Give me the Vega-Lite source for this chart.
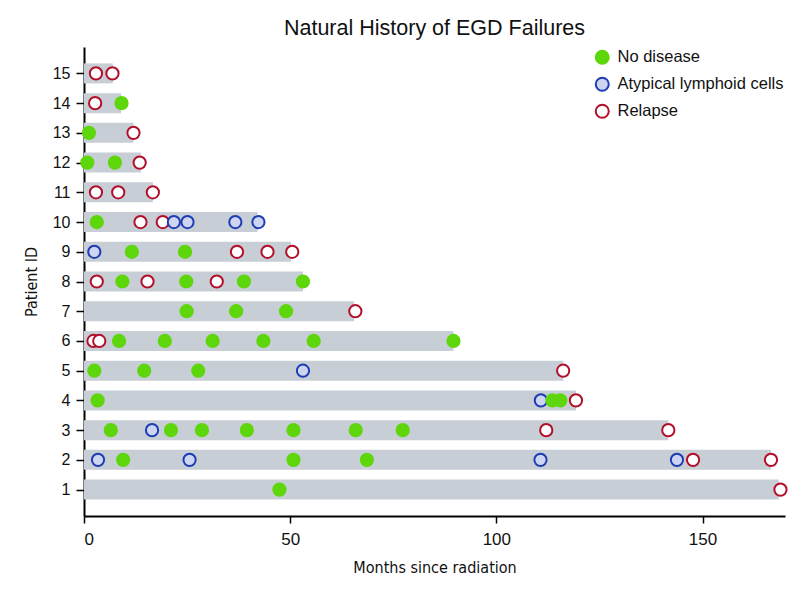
{
  "$schema": "https://vega.github.io/schema/vega-lite/v6.json",
  "width": 701,
  "height": 469,
  "autosize": {"type": "none"},
  "padding": {"left": 84, "top": 47, "right": 17, "bottom": 79},
  "background": "white",
  "config": {
    "view": {"stroke": null},
    "font": "Liberation Sans",
    "axis": {
      "grid": false,
      "domainColor": "#000", "domainWidth": 2,
      "tickColor": "#000", "tickWidth": 1.5,
      "labelColor": "#111", "labelFont": "Liberation Sans",
      "titleFont": "DejaVu Sans Condensed, Liberation Sans Narrow, Liberation Sans",
      "titleFontSize": 16, "titleFontWeight": "normal", "titleColor": "#111"
    },
    "axisX": {"tickSize": 7, "labelFontSize": 17, "labelPadding": 8, "titlePadding": 12},
    "axisY": {"tickSize": 8, "labelFontSize": 16, "labelPadding": 6, "titlePadding": 13, "labelOverlap": false}
  },
  "title": {
    "text": "Natural History of EGD Failures",
    "fontSize": 21.5,
    "fontWeight": "normal",
    "font": "Liberation Sans",
    "color": "#111",
    "offset": 8
  },
  "datasets": {
    "bars": [
      {"patient": 15, "followup": 7},
      {"patient": 14, "followup": 9},
      {"patient": 13, "followup": 12},
      {"patient": 12, "followup": 13.8},
      {"patient": 11, "followup": 16.7},
      {"patient": 10, "followup": 42.1},
      {"patient": 9, "followup": 50.2},
      {"patient": 8, "followup": 53.1},
      {"patient": 7, "followup": 65.5},
      {"patient": 6, "followup": 89.6},
      {"patient": 5, "followup": 116.2},
      {"patient": 4, "followup": 119.3},
      {"patient": 3, "followup": 141.7},
      {"patient": 2, "followup": 166.6},
      {"patient": 1, "followup": 168.5}
    ],
    "events": [
      {"patient": 15, "months": 2.9, "status": "Relapse"},
      {"patient": 15, "months": 6.9, "status": "Relapse"},
      {"patient": 14, "months": 2.7, "status": "Relapse"},
      {"patient": 14, "months": 9.1, "status": "No disease"},
      {"patient": 13, "months": 1.2, "status": "No disease"},
      {"patient": 13, "months": 12.0, "status": "Relapse"},
      {"patient": 12, "months": 0.8, "status": "No disease"},
      {"patient": 12, "months": 7.5, "status": "No disease"},
      {"patient": 12, "months": 13.5, "status": "Relapse"},
      {"patient": 11, "months": 2.9, "status": "Relapse"},
      {"patient": 11, "months": 8.3, "status": "Relapse"},
      {"patient": 11, "months": 16.7, "status": "Relapse"},
      {"patient": 10, "months": 3.1, "status": "No disease"},
      {"patient": 10, "months": 13.7, "status": "Relapse"},
      {"patient": 10, "months": 19.1, "status": "Relapse"},
      {"patient": 10, "months": 21.8, "status": "Atypical lymphoid cells"},
      {"patient": 10, "months": 25.1, "status": "Atypical lymphoid cells"},
      {"patient": 10, "months": 36.7, "status": "Atypical lymphoid cells"},
      {"patient": 10, "months": 42.3, "status": "Atypical lymphoid cells"},
      {"patient": 9, "months": 2.5, "status": "Atypical lymphoid cells"},
      {"patient": 9, "months": 11.6, "status": "No disease"},
      {"patient": 9, "months": 24.5, "status": "No disease"},
      {"patient": 9, "months": 37.1, "status": "Relapse"},
      {"patient": 9, "months": 44.5, "status": "Relapse"},
      {"patient": 9, "months": 50.5, "status": "Relapse"},
      {"patient": 8, "months": 3.1, "status": "Relapse"},
      {"patient": 8, "months": 9.3, "status": "No disease"},
      {"patient": 8, "months": 15.4, "status": "Relapse"},
      {"patient": 8, "months": 24.8, "status": "No disease"},
      {"patient": 8, "months": 32.2, "status": "Relapse"},
      {"patient": 8, "months": 38.8, "status": "No disease"},
      {"patient": 8, "months": 53.1, "status": "No disease"},
      {"patient": 7, "months": 24.9, "status": "No disease"},
      {"patient": 7, "months": 36.9, "status": "No disease"},
      {"patient": 7, "months": 49.0, "status": "No disease"},
      {"patient": 7, "months": 65.8, "status": "Relapse"},
      {"patient": 6, "months": 2.3, "status": "Relapse"},
      {"patient": 6, "months": 3.7, "status": "Relapse"},
      {"patient": 6, "months": 8.5, "status": "No disease"},
      {"patient": 6, "months": 19.6, "status": "No disease"},
      {"patient": 6, "months": 31.2, "status": "No disease"},
      {"patient": 6, "months": 43.5, "status": "No disease"},
      {"patient": 6, "months": 55.7, "status": "No disease"},
      {"patient": 6, "months": 89.6, "status": "No disease"},
      {"patient": 5, "months": 2.5, "status": "No disease"},
      {"patient": 5, "months": 14.6, "status": "No disease"},
      {"patient": 5, "months": 27.7, "status": "No disease"},
      {"patient": 5, "months": 53.1, "status": "Atypical lymphoid cells"},
      {"patient": 5, "months": 116.2, "status": "Relapse"},
      {"patient": 4, "months": 3.3, "status": "No disease"},
      {"patient": 4, "months": 110.8, "status": "Atypical lymphoid cells"},
      {"patient": 4, "months": 113.6, "status": "No disease"},
      {"patient": 4, "months": 115.5, "status": "No disease"},
      {"patient": 4, "months": 119.3, "status": "Relapse"},
      {"patient": 3, "months": 6.5, "status": "No disease"},
      {"patient": 3, "months": 16.5, "status": "Atypical lymphoid cells"},
      {"patient": 3, "months": 21.1, "status": "No disease"},
      {"patient": 3, "months": 28.6, "status": "No disease"},
      {"patient": 3, "months": 39.5, "status": "No disease"},
      {"patient": 3, "months": 50.8, "status": "No disease"},
      {"patient": 3, "months": 65.9, "status": "No disease"},
      {"patient": 3, "months": 77.3, "status": "No disease"},
      {"patient": 3, "months": 112.1, "status": "Relapse"},
      {"patient": 3, "months": 141.7, "status": "Relapse"},
      {"patient": 2, "months": 3.4, "status": "Atypical lymphoid cells"},
      {"patient": 2, "months": 9.5, "status": "No disease"},
      {"patient": 2, "months": 25.6, "status": "Atypical lymphoid cells"},
      {"patient": 2, "months": 50.8, "status": "No disease"},
      {"patient": 2, "months": 68.6, "status": "No disease"},
      {"patient": 2, "months": 110.7, "status": "Atypical lymphoid cells"},
      {"patient": 2, "months": 143.8, "status": "Atypical lymphoid cells"},
      {"patient": 2, "months": 147.7, "status": "Relapse"},
      {"patient": 2, "months": 166.6, "status": "Relapse"},
      {"patient": 1, "months": 47.4, "status": "No disease"},
      {"patient": 1, "months": 168.9, "status": "Relapse"}
    ]
  },
  "layer": [
    {
      "data": {"name": "bars"},
      "mark": {"type": "bar", "color": "#c8ced6", "size": 20, "orient": "horizontal"},
      "encoding": {
        "x": {
          "field": "followup", "type": "quantitative",
          "scale": {"domain": [0, 170], "nice": false, "zero": false},
          "axis": {"title": "Months since radiation", "values": [0, 50, 100, 150]}
        },
        "x2": {"datum": 0},
        "y": {
          "field": "patient", "type": "quantitative",
          "scale": {"domain": [0.28, 15.72], "nice": false, "zero": false},
          "axis": {"title": "Patient ID", "values": [1,2,3,4,5,6,7,8,9,10,11,12,13,14,15], "labelOverlap": false}
        }
      }
    },
    {
      "data": {"name": "events"},
      "mark": {"type": "point", "shape": "circle", "filled": false, "size": 150, "strokeWidth": 2, "opacity": 1},
      "encoding": {
        "x": {
          "field": "months", "type": "quantitative",
          "axis": {"title": "Months since radiation", "values": [0, 50, 100, 150]}
        },
        "y": {
          "field": "patient", "type": "quantitative",
          "axis": {"title": "Patient ID", "values": [1,2,3,4,5,6,7,8,9,10,11,12,13,14,15], "labelOverlap": false}
        },
        "fill": {
          "field": "status", "type": "nominal",
          "scale": {
            "domain": ["No disease", "Atypical lymphoid cells", "Relapse"],
            "range": ["#5ed60c", "#cdd5f0", "#ffffff"]
          },
          "legend": {
            "title": null,
            "orient": "none",
            "legendX": 510,
            "legendY": 2,
            "labelFont": "Liberation Sans",
            "labelFontSize": 16.5,
            "labelColor": "#111",
            "labelLimit": 300,
            "symbolSize": 170,
            "symbolStrokeWidth": 2,
            "rowPadding": 5,
            "labelOffset": 7
          }
        },
        "stroke": {
          "field": "status", "type": "nominal",
          "scale": {
            "domain": ["No disease", "Atypical lymphoid cells", "Relapse"],
            "range": ["#5ed60c", "#1e3cb4", "#b2102a"]
          },
          "legend": {
            "title": null,
            "orient": "none",
            "legendX": 510,
            "legendY": 2,
            "labelFont": "Liberation Sans",
            "labelFontSize": 16.5,
            "labelColor": "#111",
            "labelLimit": 300,
            "symbolSize": 170,
            "symbolStrokeWidth": 2,
            "rowPadding": 5,
            "labelOffset": 7
          }
        }
      }
    }
  ]
}
